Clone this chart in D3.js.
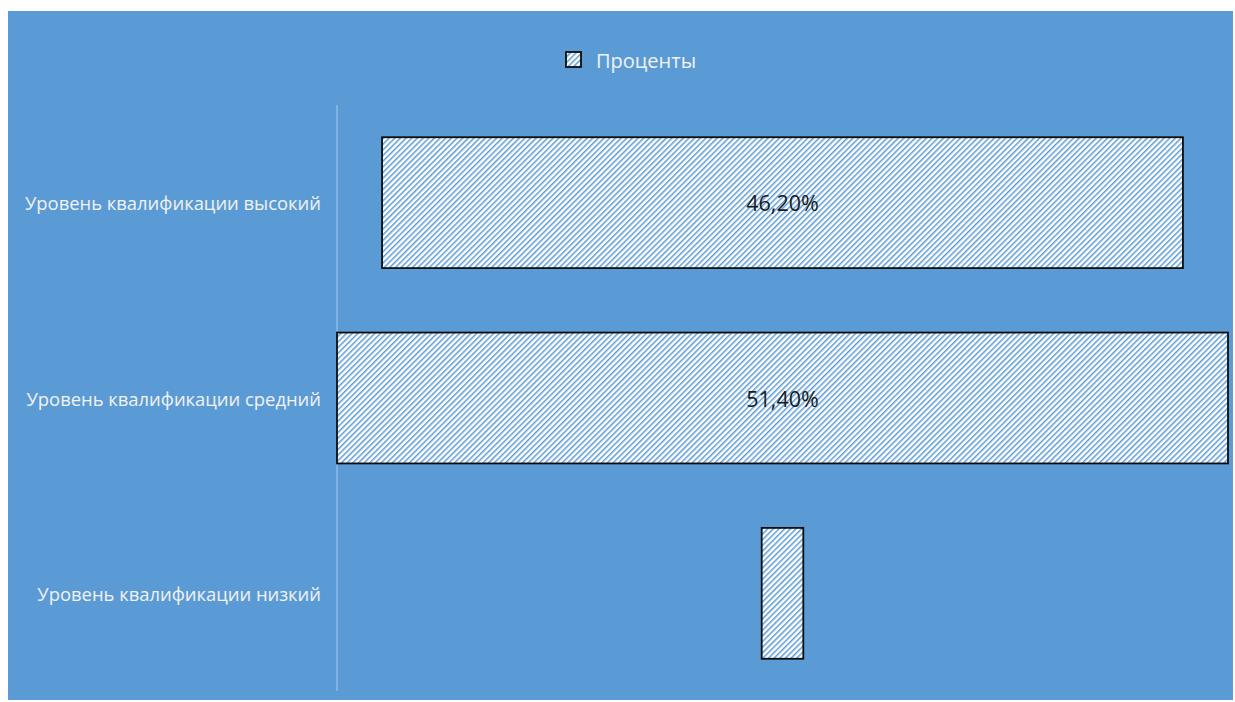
<!DOCTYPE html>
<html>
<head>
<meta charset="utf-8">
<script src="https://cdn.jsdelivr.net/npm/d3@7"></script>
<style>
  html, body { margin: 0; padding: 0; background: #ffffff; }
  svg { display: block; }
</style>
</head>
<body>
<svg id="chart" width="1235" height="702"></svg>
<script>
// Qualification levels and their shares (percent)
const categories = [
  "Уровень квалификации высокий",
  "Уровень квалификации средний",
  "Уровень квалификации низкий"
];
const values = [46.2, 51.4, 2.4];
const valueLabels = ["46,20%", "51,40%", ""];
const seriesName = "Проценты";

const W = 1235, H = 702;
const bg = { x: 8, y: 11, w: 1225, h: 689 };
const plot = { left: 337, right: 1228, top: 105, bottom: 691 };
const blue = "#5b9bd5";
const font = "'Open Sans', 'Noto Sans', sans-serif";

const svg = d3.select("#chart");

// Striped fill used by the bars and the legend key
const defs = svg.append("defs");
const pat = defs.append("pattern")
  .attr("id", "stripes")
  .attr("patternUnits", "userSpaceOnUse")
  .attr("width", 4).attr("height", 4)
  .attr("patternTransform", "rotate(45)");
pat.append("rect").attr("width", 4).attr("height", 4).attr("fill", "#ffffff");
pat.append("rect").attr("x", 0).attr("width", 1.5).attr("height", 4).attr("fill", blue);

svg.append("rect")
  .attr("x", bg.x).attr("y", bg.y).attr("width", bg.w).attr("height", bg.h)
  .attr("fill", blue);

// Bars are centred on the plot's middle (funnel layout)
const maxV = d3.max(values);
const w = d3.scaleLinear().domain([0, maxV]).range([0, plot.right - plot.left]);
const cx = (plot.left + plot.right) / 2;
const y = d3.scaleBand().domain(categories).range([plot.top, plot.bottom]).paddingInner(0.33).paddingOuter(0.165);

// Category axis line
svg.append("line")
  .attr("x1", plot.left).attr("x2", plot.left)
  .attr("y1", plot.top).attr("y2", plot.bottom)
  .attr("stroke", "#a9c9ea").attr("stroke-width", 1);

const data = categories.map((c, i) => ({ c, v: values[i], label: valueLabels[i] }));

svg.append("g").selectAll("rect").data(data).join("rect")
  .attr("x", d => cx - w(d.v) / 2)
  .attr("y", d => y(d.c))
  .attr("width", d => w(d.v))
  .attr("height", y.bandwidth())
  .attr("fill", "url(#stripes)")
  .attr("stroke", "#0d0d0d")
  .attr("stroke-width", 1.8);

svg.append("g").selectAll("text").data(data).join("text")
  .attr("x", cx)
  .attr("y", d => y(d.c) + y.bandwidth() / 2)
  .attr("text-anchor", "middle")
  .attr("dominant-baseline", "central")
  .attr("font-family", font)
  .attr("font-size", 21.5)
  .attr("fill", "#1a1a1a")
  .text(d => d.label);

// Category labels
svg.append("g").selectAll("text").data(categories).join("text")
  .attr("x", 321)
  .attr("y", d => y(d) + y.bandwidth() / 2)
  .attr("text-anchor", "end")
  .attr("dominant-baseline", "central")
  .attr("font-family", font)
  .attr("font-size", 18.4)
  .attr("fill", "#f2f2f2")
  .text(d => d);

// Legend
const lg = svg.append("g");
lg.append("rect")
  .attr("x", 566).attr("y", 52).attr("width", 15).attr("height", 15)
  .attr("fill", "url(#stripes)").attr("stroke", "#0d0d0d").attr("stroke-width", 1.8);
lg.append("text")
  .attr("x", 596).attr("y", 60)
  .attr("dominant-baseline", "central")
  .attr("font-family", font)
  .attr("font-size", 20)
  .attr("fill", "#f2f2f2")
  .text(seriesName);
</script>
</body>
</html>
